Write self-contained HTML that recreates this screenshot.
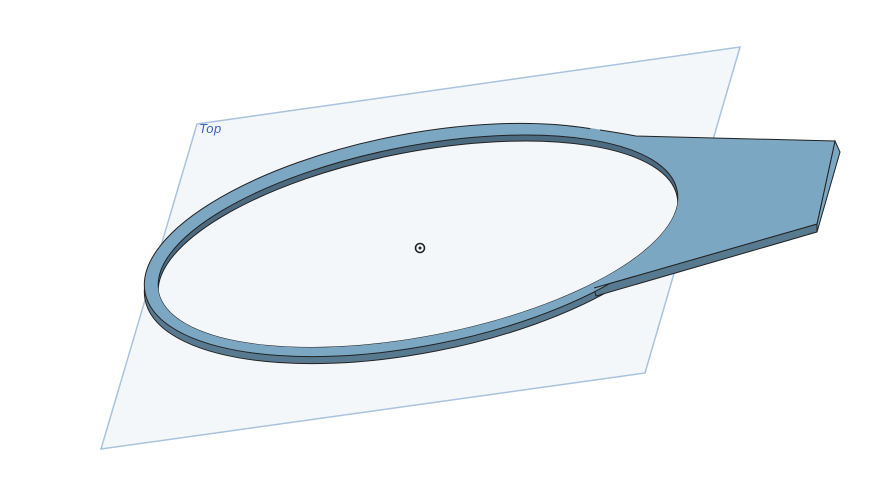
<!DOCTYPE html>
<html><head><meta charset="utf-8"><style>
html,body{margin:0;padding:0;background:#fff;width:895px;height:496px;overflow:hidden}
svg{display:block}
text{font-family:"Liberation Sans",sans-serif}
</style></head><body>
<svg width="895" height="496" viewBox="0 0 895 496">
<defs>
<clipPath id="innerClip"><ellipse cx="418" cy="241" rx="264" ry="95" transform="rotate(-11 418 241)"/></clipPath>
</defs>
<polygon points="197,124 740,47 645,373 101,449" fill="#f4f7fa" stroke="#a9c3de" stroke-width="1.5"/>
<text x="199" y="133" font-size="13" font-style="italic" fill="#3a66b8" letter-spacing="0.5">Top</text>
<g>
 <ellipse cx="416" cy="247" rx="276" ry="106" transform="rotate(-11 416 247)" fill="#587a90" stroke="#222" stroke-width="1"/>
 <polygon points="594,288 817,224 817,232 596,296" fill="#587a90" stroke="#222" stroke-width="1"/>
 <polygon points="835,141 840,152 817,232 817,224" fill="#7ba7c2" stroke="#222" stroke-width="1"/>
 <ellipse cx="416" cy="240" rx="276" ry="106" transform="rotate(-11 416 240)" fill="#7ba7c2" stroke="#222" stroke-width="1"/>
 <path d="M590,128 Q615,132 636,136 L835,141 L817,224 L594,288 Q610,275 640,255 L600,200 Z" fill="#7ba7c2" stroke="none"/>
 <path d="M600,130 Q620,133 636,136 L835,141 L817,224 L594,288" fill="none" stroke="#222" stroke-width="1"/>
 <ellipse cx="418" cy="241" rx="264" ry="95" transform="rotate(-11 418 241)" fill="#4d6b80" stroke="#222" stroke-width="1"/>
 <g clip-path="url(#innerClip)">
  <ellipse cx="418" cy="247" rx="264" ry="95" transform="rotate(-11 418 247)" fill="#f4f7fa" stroke="#222" stroke-width="1"/>
 </g>
</g>
<g>
 <circle cx="420" cy="248" r="4.5" fill="none" stroke="#222" stroke-width="1.6"/>
 <circle cx="420" cy="248" r="1.5" fill="#222"/>
</g>
</svg>
</body></html>
